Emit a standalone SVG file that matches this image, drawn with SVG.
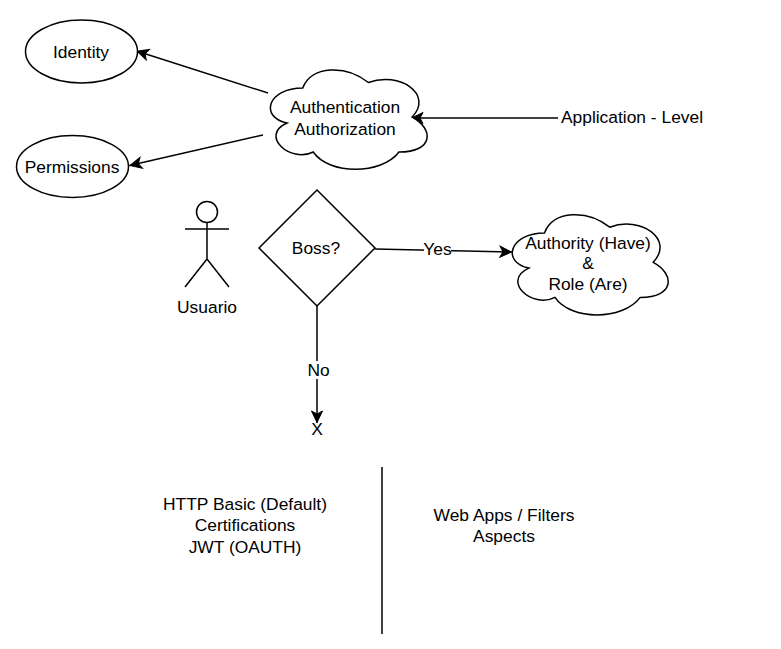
<svg xmlns="http://www.w3.org/2000/svg" width="781" height="649" viewBox="0 0 781 649">
<defs>
<marker id="arrow" viewBox="0 0 14 14" refX="13.500" refY="7" markerWidth="14" markerHeight="14" markerUnits="userSpaceOnUse" orient="auto"><path d="M1.500 1.500L13 7L1.500 12.500L4.500 7Z" fill="#000" stroke="#000" stroke-width="1"/></marker>
</defs>
<style>
text{font-family:"Liberation Sans",Arial,sans-serif;font-size:17.400px;fill:#000;text-anchor:middle}
.s{fill:#fff;stroke:#000;stroke-width:1.500}
.l{fill:none;stroke:#000;stroke-width:1.500}
.c{fill:none;stroke:#000;stroke-width:1.500;marker-end:url(#arrow)}
</style>
<rect width="781" height="649" fill="#fff"/>
<g id="connectors">
<path class="c" d="M268 93L136.500 51"/>
<path class="c" d="M263 135L129.500 165.500"/>
<path class="c" d="M558 118L411 118"/>
<path class="c" d="M375 249L512 252"/>
<path class="c" d="M317 306L317 423"/>
<rect x="424" y="240" width="27" height="18" fill="#fff"/>
<rect x="308" y="361" width="21" height="18" fill="#fff"/>
<text x="437.500" y="255">Yes</text>
<text x="318.500" y="376">No</text>
</g>
<g id="identity"><ellipse class="s" cx="81.500" cy="51.500" rx="56" ry="31.500"/><text x="81" y="58">Identity</text></g>
<g id="permissions"><ellipse class="s" cx="72.500" cy="166.500" rx="56" ry="31"/><text x="72" y="173">Permissions</text></g>
<g id="auth"><path d="M302.750 88C267.750 88 259 117 287 123C259 135.600 290.500 163.500 313.250 152C329 175 381.500 175 399 152C434 152 434 129 412.130 117C434 94 399 71 368.380 82.500C346.500 65 311.500 65 302.750 88Z" class="s"/><text x="345" y="113">Authentication</text><text x="345" y="135">Authorization</text></g>
<g id="application"><text x="632" y="123">Application - Level</text></g>
<g id="usuario">
<circle class="s" cx="207" cy="212" r="10.500"/>
<path class="l" d="M207 222.500V259M185 229H229M207 259L185 287M207 259L229 287"/>
<text x="207" y="313">Usuario</text>
</g>
<g id="boss"><path class="s" d="M317 190L375 248L317 306L259 248Z"/><text x="316" y="254">Boss?</text></g>
<g id="authority"><path d="M544.500 233C509.700 233 501 262.300 528.800 268.100C501 281 532.300 309.100 555 297.400C570.600 320.800 622.800 320.800 640.200 297.400C675 297.400 675 274 653.250 262.300C675 238.900 640.200 215.500 609.750 227.200C588 209.600 553.200 209.600 544.500 233Z" class="s"/><text x="588" y="249">Authority (Have)</text><text x="588" y="269">&amp;</text><text x="588" y="290">Role (Are)</text></g>
<g id="x"><text x="317" y="435">X</text></g>
<g id="methods"><text x="245" y="510">HTTP Basic (Default)</text><text x="245" y="531">Certifications</text><text x="245" y="553">JWT (OAUTH)</text></g>
<g id="divider"><path class="l" d="M382 467V634"/></g>
<g id="apps"><text x="504" y="521">Web Apps / Filters</text><text x="504" y="542">Aspects</text></g>
</svg>
